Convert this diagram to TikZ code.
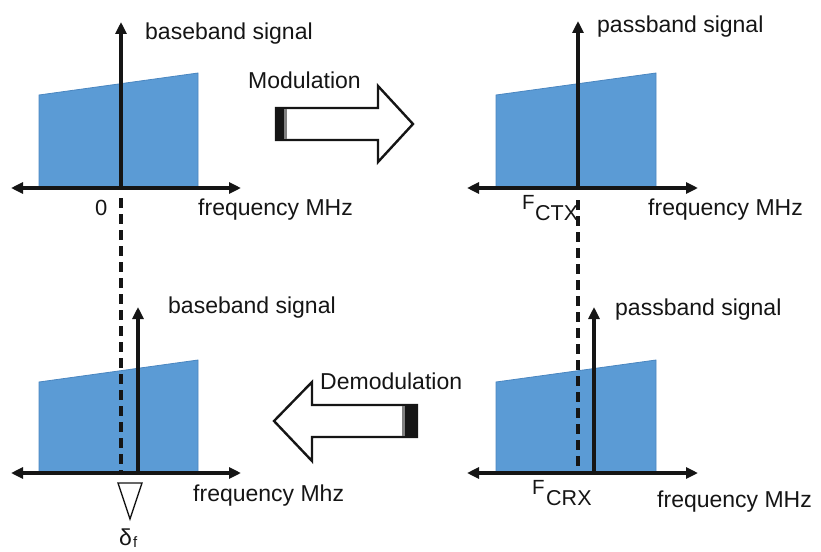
\documentclass[tikz,border=0pt]{standalone}
\usepackage{fontspec}
\setmainfont{Liberation Sans}
\usetikzlibrary{arrows.meta}
\definecolor{band}{HTML}{5B9BD5}
\definecolor{bandedge}{HTML}{4A86C0}
\definecolor{ink}{HTML}{151515}
\begin{document}
\begin{tikzpicture}[x=1pt,y=-1pt,
  haxis/.style={line width=3.6pt, draw=ink, {Triangle[length=12pt,width=11pt]}-{Triangle[length=12pt,width=11pt]}},
  vaxis/.style={line width=3.2pt, draw=ink, -{Triangle[length=12pt,width=11pt]}},
  bandshape/.style={fill=band, draw=bandedge, line width=0.8pt},
  dashline/.style={line width=3.4pt, draw=ink, dash pattern=on 10pt off 6pt},
  bigarrow/.style={fill=white, draw=ink, line width=2.4pt, line join=miter},
  lbl/.style={anchor=base west, inner sep=0pt, text=ink, font=\fontsize{23}{27}\selectfont},
  bigF/.style={anchor=base west, inner sep=0pt, text=ink, font=\fontsize{20.5}{24}\selectfont},
  subF/.style={anchor=base west, inner sep=0pt, text=ink, font=\fontsize{21.5}{25}\selectfont}
]
\useasboundingbox (0,0) rectangle (821,551);

% ---------- top-left: baseband ----------
\draw[bandshape] (39,188) -- (39,95) -- (198,73) -- (198,188) -- cycle;
\coordinate (tlL) at (11,188); \coordinate (tlR) at (241,188);
\coordinate (tl0) at (121,188); \coordinate (tlT) at (121,22);
\draw[haxis] (tlL) -- (tlR);
\draw[vaxis] (tl0) -- (tlT);
\node[lbl] (tlsig) at (145,40) {baseband signal};
\node[lbl, font=\fontsize{22}{26}\selectfont] (zero) at (95,215) {0};
\node[lbl] (tlfreq) at (198,215) {frequency MHz};

% ---------- top-right: passband ----------
\draw[bandshape] (496,188) -- (496,95) -- (656,73) -- (656,188) -- cycle;
\coordinate (trL) at (467,188); \coordinate (trR) at (698,188);
\coordinate (tr0) at (578,188); \coordinate (trT) at (578,21);
\draw[haxis] (trL) -- (trR);
\draw[vaxis] (tr0) -- (trT);
\node[lbl] (trsig) at (597,33) {passband signal};
\node[bigF] (fctxF) at (522,209) {F};
\node[subF] (fctxS) at (535,220) {CTX};
\node[lbl] (trfreq) at (648,215) {frequency MHz};

% ---------- bottom-left: baseband ----------
\draw[bandshape] (39,473) -- (39,382) -- (198,360) -- (198,473) -- cycle;
\coordinate (blL) at (11,473); \coordinate (blR) at (241,473);
\coordinate (bl0) at (138,473); \coordinate (blT) at (138,307);
\draw[haxis] (blL) -- (blR);
\draw[vaxis] (bl0) -- (blT);
\node[lbl] (blsig) at (168,313) {baseband signal};
\node[lbl] (blfreq) at (193,501) {frequency Mhz};

% ---------- bottom-right: passband ----------
\draw[bandshape] (496,473) -- (496,382) -- (656,360) -- (656,473) -- cycle;
\coordinate (brL) at (467,473); \coordinate (brR) at (698,473);
\coordinate (br0) at (594,473); \coordinate (brT) at (594,307);
\draw[haxis] (brL) -- (brR);
\draw[vaxis] (br0) -- (brT);
\node[lbl] (brsig) at (615,315) {passband signal};
\node[bigF] (fcrxF) at (532,494) {F};
\node[subF] (fcrxS) at (546,505) {CRX};
\node[lbl] (brfreq) at (657,507) {frequency MHz};

% ---------- dashed carrier lines ----------
\coordinate (dA) at (121,198); \coordinate (dB) at (121,473);
\coordinate (dC) at (578,200); \coordinate (dD) at (578,473);
\draw[dashline] (dA) -- (dB);
\draw[dashline] (dC) -- (dD);

% ---------- delta marker ----------
\draw[fill=white, draw=ink, line width=1.4pt] (118,483) -- (142,483) -- (130,519) -- cycle;
\node[anchor=base west, inner sep=0pt, text=ink, font=\fontsize{23}{26}\selectfont] (delta) at (119,545) {δ};
\node[anchor=base west, inner sep=0pt, text=ink, font=\fontsize{15}{17}\selectfont] (deltaf) at (133,547) {f};

% ---------- Modulation arrow ----------
\draw[bigarrow] (276,108) -- (378,108) -- (378,86) -- (413,124) -- (378,162) -- (378,140) -- (276,140) -- cycle;
\fill[ink] (276,108) rectangle (284,140);
\fill[gray] (284,109) rectangle (287,139);
\node[lbl] (mod) at (248,88) {Modulation};

% ---------- Demodulation arrow ----------
\draw[bigarrow] (274,421) -- (312,382) -- (312,405) -- (417,405) -- (417,437) -- (312,437) -- (312,461) -- cycle;
\fill[ink] (405,405) rectangle (417,437);
\fill[gray] (402,406) rectangle (405,436);
\node[lbl] (demod) at (320,389) {Demodulation};
\end{tikzpicture}
\end{document}
